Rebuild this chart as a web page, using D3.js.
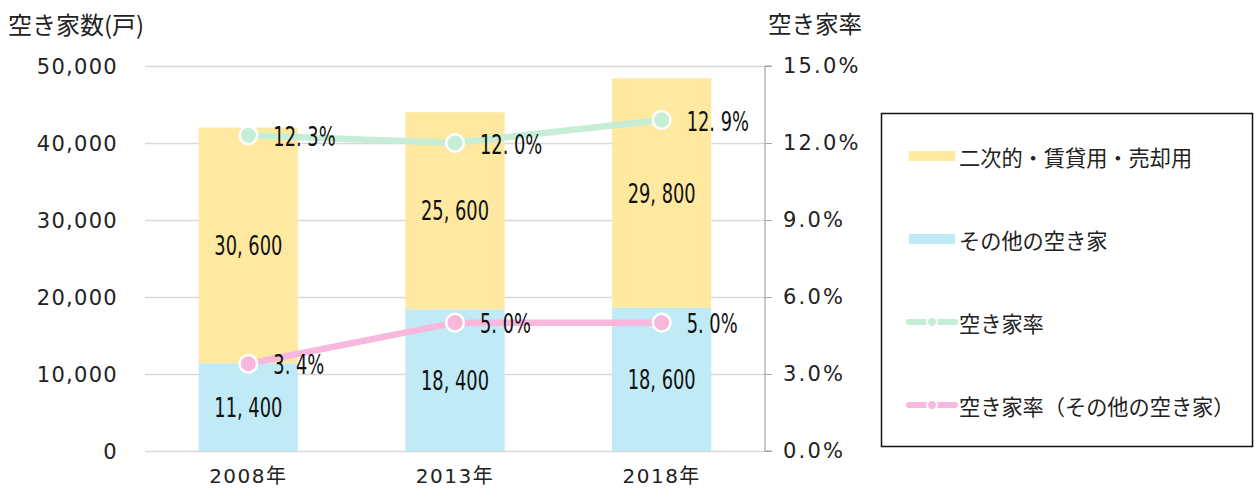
<!DOCTYPE html>
<html>
<head>
<meta charset="utf-8">
<script src="https://cdn.jsdelivr.net/npm/d3@7"></script>
<style>
body{margin:0;background:#fff;}
svg text{font-family:"Noto Sans CJK JP","Noto Sans",sans-serif;}
</style>
</head>
<body>
<svg id="chart" width="1255" height="488"></svg>
<script>
// data
var years=["2008年","2013年","2018年"];
var other=[11400,18400,18600];          // その他の空き家
var secondary=[30600,25600,29800];      // 二次的・賃貸用・売却用
var rate=[12.3,12.0,12.9];              // 空き家率
var rateOther=[3.4,5.0,5.0];            // 空き家率（その他の空き家）
var leftTicks=[0,10000,20000,30000,40000,50000];
var rightTicks=[0,3,6,9,12,15];

var colYellow="#FFE9A1",colBlue="#C0EAF6",colGreen="#C6EED6",colPink="#F8B8DD";
var numFont="'DejaVu Sans',sans-serif";
var axFont="'DejaVu Sans','Noto Sans CJK JP',sans-serif";
var squeeze=0.66;   //data labels are a condensed face in the original

var svg=d3.select("#chart");
var pLeft=145,pRight=765,pTop=66,pBottom=451;

var x=d3.scaleBand().domain(years).range([pLeft,pRight]).paddingInner(0.52).paddingOuter(0.26);
var y=d3.scaleLinear().domain([0,50000]).range([pBottom,pTop]);
var y2=d3.scaleLinear().domain([0,15]).range([pBottom,pTop]);

//gridlines
svg.append("g").selectAll("line").data(leftTicks).enter().append("line")
	.attr("x1",pLeft).attr("x2",pRight)
	.attr("y1",function(d){return y(d)+0.5;}).attr("y2",function(d){return y(d)+0.5;})
	.attr("stroke","#d9d9d9").attr("stroke-width",1.5);

//left axis labels
svg.append("g").selectAll("text").data(leftTicks).enter().append("text")
	.attr("x",118).attr("y",function(d){return y(d);})
	.attr("dy","0.36em").attr("text-anchor","end")
	.attr("font-size",21).attr("fill","#222").attr("letter-spacing",1.3)
	.style("font-family",axFont)
	.text(function(d){return d3.format(",")(d);});

//right axis
var ax=svg.append("g").attr("transform","translate("+pRight+",0)")
	.call(d3.axisRight(y2).tickValues(rightTicks).tickSize(7).tickPadding(11)
		.tickFormat(function(d){return d3.format(".1f")(d)+"%";}));
ax.select(".domain").attr("stroke","#a6a6a6").attr("stroke-width",1.2).attr("d","M7,"+pTop+"H0V"+pBottom+"H7");
ax.selectAll(".tick line").attr("stroke","#a6a6a6");
ax.selectAll(".tick text").attr("font-size",21).attr("fill","#222").attr("letter-spacing",2.2)
	.style("font-family",axFont);

//bars
var bars=svg.append("g");
years.forEach(function(yr,i){
	bars.append("rect").attr("x",x(yr)).attr("width",x.bandwidth())
		.attr("y",y(other[i])).attr("height",y(0)-y(other[i])).attr("fill",colBlue);
	bars.append("rect").attr("x",x(yr)).attr("width",x.bandwidth())
		.attr("y",y(other[i]+secondary[i])).attr("height",y(0)-y(secondary[i])).attr("fill",colYellow);
});

function fmtNum(v){return d3.format(",")(v).replace(",",", ");}

//condensed label helper
function label(g,px,py,txt,anchor){
	g.append("text")
		.attr("transform","translate("+px+","+py+") scale("+squeeze+",1)")
		.attr("dy","0.36em").attr("text-anchor",anchor)
		.attr("font-size",27).attr("fill","#111").style("font-family",numFont)
		.text(txt);
}

//bar labels
var blbl=svg.append("g");
years.forEach(function(yr,i){
	var cx=x(yr)+x.bandwidth()/2;
	label(blbl,cx,(y(0)+y(other[i]))/2,fmtNum(other[i]),"middle");
	label(blbl,cx,(y(other[i])+y(other[i]+secondary[i]))/2,fmtNum(secondary[i]),"middle");
});

//lines
var line=d3.line().x(function(d,i){return x(years[i])+x.bandwidth()/2;});
function drawLine(vals,col){
	var g=svg.append("g");
	g.append("path").datum(vals)
		.attr("d",line.y(function(d){return y2(d);}))
		.attr("fill","none").attr("stroke",col).attr("stroke-width",6.5);
	g.selectAll("circle").data(vals).enter().append("circle")
		.attr("cx",function(d,i){return x(years[i])+x.bandwidth()/2;})
		.attr("cy",function(d){return y2(d);})
		.attr("r",8.8).attr("fill",col).attr("stroke","#fff").attr("stroke-width",2.5);
	vals.forEach(function(d,i){
		label(g,x(years[i])+x.bandwidth()/2+25,y2(d)+1,d3.format(".1f")(d).replace(".",". ")+"%","start");
	});
}
drawLine(rate,colGreen);
drawLine(rateOther,colPink);

//x labels
svg.append("g").selectAll("text").data(years).enter().append("text")
	.attr("x",function(d){return x(d)+x.bandwidth()/2;}).attr("y",476)
	.attr("dy","0.35em").attr("text-anchor","middle")
	.attr("font-size",20).attr("fill","#222").attr("letter-spacing",1.5)
	.style("font-family",axFont).text(function(d){return d;});

//axis titles
svg.append("text").attr("x",8).attr("y",25).attr("dy","0.36em")
	.attr("font-size",24).attr("fill","#222").text("空き家数(戸)");
svg.append("text").attr("x",768).attr("y",25).attr("dy","0.36em")
	.attr("font-size",23.5).attr("fill","#222").text("空き家率");

//legend
var lg=svg.append("g");
lg.append("rect").attr("x",881.5).attr("y",113.5).attr("width",371).attr("height",333)
	.attr("fill","#fff").attr("stroke","#111").attr("stroke-width",1.5);
var legendItems=[
	{name:"二次的・賃貸用・売却用",col:colYellow,type:"bar",y:156},
	{name:"その他の空き家",col:colBlue,type:"bar",y:239},
	{name:"空き家率",col:colGreen,type:"line",y:322},
	{name:"空き家率（その他の空き家）",col:colPink,type:"line",y:405}
];
legendItems.forEach(function(it){
	if(it.type=="bar"){
		lg.append("rect").attr("x",909).attr("y",it.y-5).attr("width",46).attr("height",10).attr("fill",it.col);
	}else{
		lg.append("line").attr("x1",909).attr("x2",955).attr("y1",it.y).attr("y2",it.y)
			.attr("stroke",it.col).attr("stroke-width",6).attr("stroke-linecap","round");
		lg.append("circle").attr("cx",932).attr("cy",it.y).attr("r",5).attr("fill",it.col)
			.attr("stroke","#fff").attr("stroke-width",2);
	}
	lg.append("text").attr("x",959).attr("y",it.y+2).attr("dy","0.36em")
		.attr("font-size",21.2).attr("fill","#222").text(it.name);
});
</script>
</body>
</html>
